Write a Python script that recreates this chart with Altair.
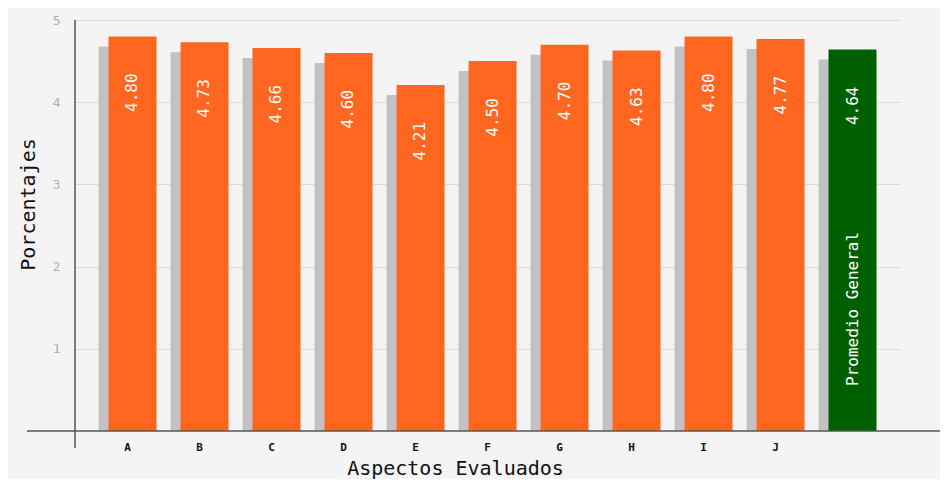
import altair as alt
import pandas as pd

categories = ["A", "B", "C", "D", "E", "F", "G", "H", "I", "J", "Promedio General"]
values = [4.80, 4.73, 4.66, 4.60, 4.21, 4.50, 4.70, 4.63, 4.80, 4.77, 4.64]
kinds = ["Aspecto"] * 10 + ["Promedio"]

df = pd.DataFrame({"cat": categories, "val": values, "tipo": kinds})

FONT = "DejaVu Sans Mono"
W, H = 825, 411
SHADOW_DROP = 10 * 5 / H  # 10 px expressed in y units

xenc = alt.X(
    "cat:N", sort=categories,
    scale=alt.Scale(paddingInner=0, paddingOuter=0.229),
    axis=alt.Axis(
        title="Aspectos Evaluados", labelAngle=0, domain=False, ticks=False,
        labelPadding=10, labelFont=FONT, labelFontSize=11, labelFontWeight="bold",
        labelColor="#111111",
        labelExpr="datum.label == 'Promedio General' ? '' : datum.label",
        titleFont=FONT, titleFontSize=20, titleFontWeight="normal", titleColor="#111111",
        titleX=380, titleY=37, titleAlign="center", titleBaseline="middle",
    ),
)
yscale = alt.Scale(domain=[0, 5])
yaxis = alt.Axis(
    title="Porcentajes", values=[1, 2, 3, 4, 5], format="d", grid=True, gridColor="#dcdcdc",
    domain=False, ticks=False, labelPadding=15, labelFont=FONT, labelFontSize=13,
    labelColor="#b0b0b0", titleFont=FONT, titleFontSize=20, titleFontWeight="normal",
    titleColor="#111111", titlePadding=14, titleY=184,
)
yenc = alt.Y("val:Q", scale=yscale, axis=yaxis)

base = alt.Chart(df)

shadow = base.transform_calculate(sv=f"datum.val - {SHADOW_DROP}").mark_bar(
    size=48, xOffset=-5, color="#c2c2c2").encode(
    x=xenc, y=alt.Y("sv:Q", scale=yscale, axis=yaxis))

bars = base.mark_bar(size=48, xOffset=5).encode(
    x=xenc, y=yenc,
    color=alt.Color("tipo:N", scale=alt.Scale(domain=["Aspecto", "Promedio"],
                                              range=["#ff6620", "#006000"]), legend=None),
)

labels = base.mark_text(angle=270, align="right", baseline="middle", xOffset=5, yOffset=37,
                        color="white", font=FONT, fontSize=16).encode(
    x=xenc, y=yenc, text=alt.Text("val:Q", format=".2f"))

prom = base.transform_filter(alt.datum.tipo == "Promedio").mark_text(
    angle=270, align="left", baseline="middle", xOffset=5, yOffset=-45,
    color="white", font=FONT, fontSize=16).encode(
    x=xenc, y=alt.datum(0), text="cat:N")

xline = alt.Chart(pd.DataFrame({"v": [0]})).mark_rule(color="#555555", strokeWidth=1.5).encode(
    y=alt.Y("v:Q", scale=yscale), x=alt.value(-48), x2=alt.value(873))
yline = alt.Chart(pd.DataFrame({"v": [0]})).mark_rule(color="#555555", strokeWidth=1.5).encode(
    x=alt.value(0), y=alt.value(0), y2=alt.value(428))

chart = alt.layer(shadow, bars, labels, prom, xline, yline).properties(
    width=W, height=H,
    autosize=alt.AutoSizeParams(type="none"),
    padding={"left": 67, "top": 12, "right": 40, "bottom": 48},
    background="#f4f4f4",
).configure_view(stroke=None)

chart.save("out.html", embed_options={"renderer": "svg", "actions": False})
